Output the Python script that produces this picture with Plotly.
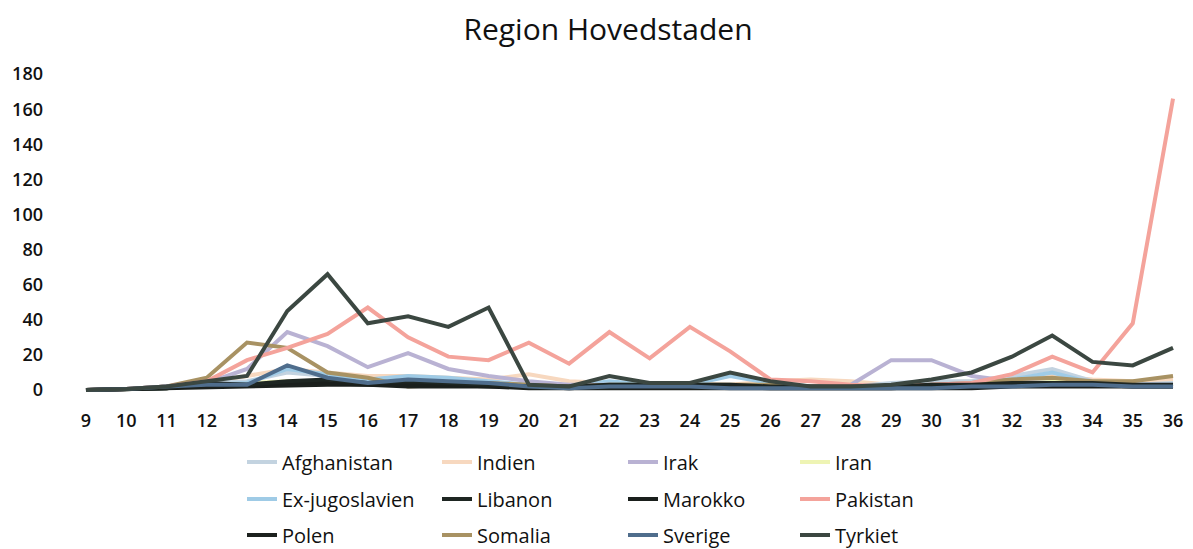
import plotly.graph_objects as go

ages = list(range(9, 37))

afghanistan = [0, 0.5, 2, 4, 5, 10, 8, 5, 5, 4, 3, 2, 2, 3, 2, 3, 3, 2, 2, 2, 4, 5, 5, 8, 12, 5, 3, 4]
indien = [0, 0.5, 1, 4, 8, 12, 10, 8, 8, 7, 6, 9, 5, 4, 3, 4, 3, 5, 6, 5, 3, 4, 5, 7, 8, 6, 5, 6]
irak = [0, 0.5, 2, 4, 12, 33, 25, 13, 21, 12, 8, 5, 3, 3, 2, 3, 2, 2, 2, 3, 17, 17, 8, 5, 4, 3, 3, 3]
iran = [0, 0.5, 1, 3, 4, 5, 5, 4, 4, 3, 3, 2, 2, 3, 2, 2, 2, 2, 2, 3, 3, 3, 3, 4, 5, 3, 3, 4]
exjugo = [0, 0.5, 1, 3, 4, 12, 9, 6, 8, 7, 5, 3, 2, 5, 3, 3, 8, 4, 2, 2, 2, 3, 4, 6, 10, 4, 3, 3]
libanon = [0, 0.5, 1, 4, 3, 5, 6, 4, 5, 4, 3, 2, 2, 3, 3, 3, 3, 2, 2, 2, 2, 3, 3, 4, 4, 4, 3, 3]
marokko = [0, 0.5, 1, 3, 3, 4, 4, 3, 3, 3, 2, 2, 1, 2, 2, 2, 2, 1, 1, 1, 1, 2, 2, 3, 3, 3, 2, 2]
pakistan = [0, 0.5, 2, 5, 17, 24, 32, 47, 30, 19, 17, 27, 15, 33, 18, 36, 22, 6, 5, 3, 2, 3, 4, 9, 19, 10, 38, 166]
polen = [0, 0.5, 1, 2, 2, 3, 3, 3, 2, 2, 2, 1, 1, 1, 1, 1, 1, 1, 1, 1, 1, 1, 1, 2, 2, 2, 2, 2]
somalia = [0, 0.5, 2, 7, 27, 24, 10, 7, 2, 3, 4, 3, 2, 3, 3, 3, 3, 3, 2, 2, 2, 3, 4, 6, 7, 5, 5, 8]
sverige = [0, 0.5, 2, 3, 3, 14, 7, 4, 6, 5, 4, 2, 1, 2, 2, 2, 1, 1, 1, 1, 1, 1, 2, 2, 3, 3, 2, 2]
tyrkiet = [0, 0.5, 2, 5, 8, 45, 66, 38, 42, 36, 47, 3, 2, 8, 4, 4, 10, 5, 2, 2, 3, 6, 10, 19, 31, 16, 14, 24]

names = ["Afghanistan", "Indien", "Irak", "Iran",
         "Ex-jugoslavien", "Libanon", "Marokko", "Pakistan",
         "Polen", "Somalia", "Sverige", "Tyrkiet"]
series = [afghanistan, indien, irak, iran,
          exjugo, libanon, marokko, pakistan,
          polen, somalia, sverige, tyrkiet]
colors = ["#c3d3e0", "#f7d8bf", "#b9b2d3", "#eef4b4",
          "#9fcbe6", "#1e2622", "#1a1f1c", "#f4a39b",
          "#1c211e", "#a89263", "#4f6d8c", "#3b4741"]

# draw order: light ones first, dark/prominent ones on top
draw_order = [3, 1, 0, 4, 2, 9, 7, 8, 6, 5, 10, 11]

col_widths = [150, 141, 127, 120]
row_y = [462, 499, 535]
H = 549
W = 1193

fig = go.Figure()
for i in draw_order:
    row = i // 4
    col = i % 4
    fig.add_trace(go.Scatter(
        x=ages, y=series[i], name=names[i], mode="lines",
        line=dict(color=colors[i], width=4),
        legend="legend" if row == 0 else f"legend{row + 1}",
        legendrank=i + 1,
        legendwidth=col_widths[col],
    ))

font_family = "'Open Sans', Lato, sans-serif"
leg_common = dict(orientation="h", xref="container", yref="container",
                  x=242 / W, xanchor="left", yanchor="middle",
                  font=dict(family=font_family, size=20, color="#111"),
                  bgcolor="rgba(0,0,0,0)", itemwidth=30, traceorder="normal")

fig.update_layout(
    width=W, height=H,
    margin=dict(l=80, r=10, t=70, b=154),
    plot_bgcolor="white", paper_bgcolor="white",
    title=dict(text="Region Hovedstaden", x=608 / W, xanchor="center",
               xref="container", y=1 - 29 / H, yanchor="middle", yref="container",
               font=dict(family=font_family, size=30, color="#111")),
    xaxis=dict(range=[9 - 6 / 40.41, 36 + 6 / 40.41], tickvals=ages,
               showgrid=False, zeroline=False, showline=False,
               ticklabelstandoff=13,
               tickfont=dict(family=font_family, size=18, color="#111", weight=600)),
    yaxis=dict(range=[-2.85, 182.34], tickvals=list(range(0, 181, 20)),
               showgrid=False, zeroline=False, showline=False,
               ticklabelstandoff=36,
               tickfont=dict(family=font_family, size=18, color="#111", weight=600)),
    legend=dict(**leg_common, y=1 - row_y[0] / H),
    legend2=dict(**leg_common, y=1 - row_y[1] / H),
    legend3=dict(**leg_common, y=1 - row_y[2] / H),
)

fig.write_html("out.html", config={"displayModeBar": False},
               post_script="document.body.style.margin='0';")
